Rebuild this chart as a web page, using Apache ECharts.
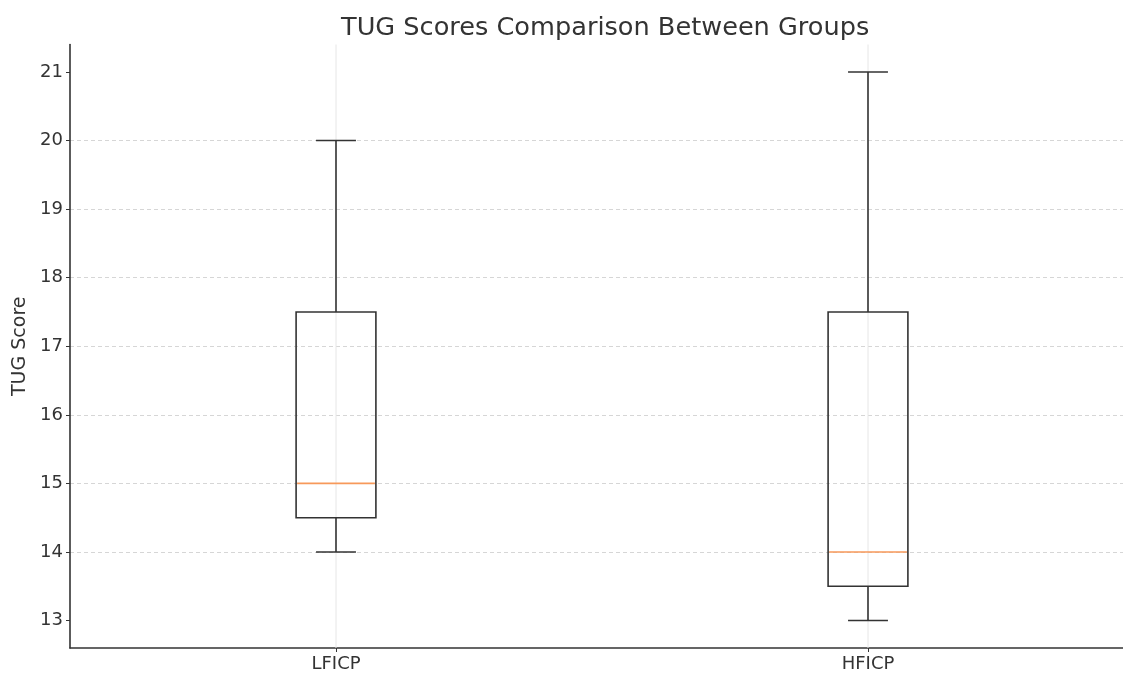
<!DOCTYPE html>
<html>
<head>
<meta charset="utf-8">
<script src="https://cdn.jsdelivr.net/npm/echarts@6/dist/echarts.min.js"></script>
<style>html,body{margin:0;padding:0;background:#fff;}#c{width:1123px;height:673px;}</style>
</head>
<body>
<div id="c"></div>
<script>
const categories = ['LFICP', 'HFICP'];
const whiskerLow = [14, 13];
const q1Values = [14.5, 13.5];
const medianValues = [15, 14];
const q3Values = [17.5, 17.5];
const whiskerHigh = [20, 21];
const yTickValues = [13, 14, 15, 16, 17, 18, 19, 20, 21];

const boxData = categories.map((c, i) => [i, whiskerLow[i], q1Values[i], medianValues[i], q3Values[i], whiskerHigh[i]]);

const FONT = 'DejaVu Sans';
const LINE = '#333333';

function renderBox(params, api) {
  const idx = api.value(0);
  const low = api.coord([idx, api.value(1)]);
  const q1 = api.coord([idx, api.value(2)]);
  const med = api.coord([idx, api.value(3)]);
  const q3 = api.coord([idx, api.value(4)]);
  const high = api.coord([idx, api.value(5)]);
  const band = api.size([1, 0])[0];
  const bw = band * 0.15;
  const cap = bw / 4;
  const cx = q1[0];
  const cs = params.coordSys;
  const ls = { stroke: LINE, lineWidth: 1.6, fill: null };
  return {
    type: 'group',
    children: [
      { type: 'line', z2: 0, shape: { x1: cx, y1: cs.y, x2: cx, y2: cs.y + cs.height }, style: { stroke: '#e6e6e6', lineWidth: 1 } },
      { type: 'line', z2: 5, shape: { x1: cx, y1: q1[1], x2: cx, y2: low[1] }, style: ls },
      { type: 'line', z2: 5, shape: { x1: cx, y1: q3[1], x2: cx, y2: high[1] }, style: ls },
      { type: 'line', z2: 5, shape: { x1: cx - cap, y1: low[1], x2: cx + cap, y2: low[1] }, style: ls },
      { type: 'line', z2: 5, shape: { x1: cx - cap, y1: high[1], x2: cx + cap, y2: high[1] }, style: ls },
      { type: 'rect', z2: 5, shape: { x: cx - bw / 2, y: q3[1], width: bw, height: q1[1] - q3[1] }, style: ls },
      { type: 'line', z2: 6, shape: { x1: cx - bw / 2 + 1, y1: med[1], x2: cx + bw / 2 - 1, y2: med[1] }, style: { stroke: '#f7995a', lineWidth: 1.6 } }
    ]
  };
}

const chart = echarts.init(document.getElementById('c'), null, { renderer: 'canvas' });
chart.setOption({
  backgroundColor: '#ffffff',
  animation: false,
  title: {
    text: 'TUG Scores Comparison Between Groups',
    left: 336,
    top: 10,
    textStyle: { fontFamily: FONT, fontSize: 25.6, fontWeight: 'normal', color: '#333' }
  },
  grid: { left: 70, right: -11, top: 44.5, bottom: 25, containLabel: false, outerBoundsMode: 'none' },
  xAxis: {
    type: 'category',
    data: categories,
    boundaryGap: true,
    axisLine: { show: true, lineStyle: { color: LINE, width: 1.6 } },
    axisTick: { show: true, alignWithLabel: true, length: 4, lineStyle: { color: LINE } },
    axisLabel: { fontFamily: FONT, fontSize: 18, color: '#333', margin: 7 },
    splitLine: { show: false }
  },
  yAxis: {
    type: 'value',
    min: 12.6,
    max: 21.4,
    splitNumber: 8,
    name: 'TUG Score',
    nameLocation: 'middle',
    nameGap: 39,
    nameTextStyle: { fontFamily: FONT, fontSize: 19, color: '#333' },
    axisLine: { show: true, lineStyle: { color: LINE, width: 1.6 } },
    axisTick: { show: true, length: 4, customValues: yTickValues, lineStyle: { color: LINE } },
    axisLabel: {
      fontFamily: FONT, fontSize: 18, color: '#333', margin: 7,
      customValues: yTickValues,
      formatter: v => (Number.isInteger(v) ? String(v) : '')
    },
    splitLine: { show: true, showMinLine: false, showMaxLine: false, lineStyle: { color: '#d6d6d6', type: [4, 3], width: 1 } }
  },
  series: [{
    type: 'custom',
    renderItem: renderBox,
    data: boxData,
    encode: { x: 0, y: [1, 2, 3, 4, 5] },
    clip: false,
    z: 3
  }]
});
</script>
</body>
</html>
